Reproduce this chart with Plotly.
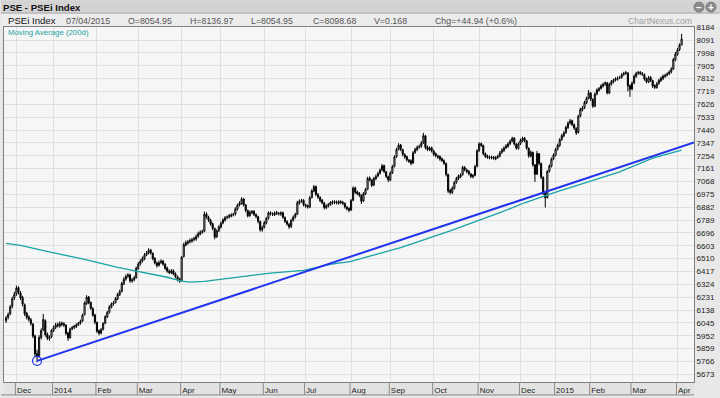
import pandas as pd
import plotly.graph_objects as go

# ---------------- data ----------------
start_date = "2013-11-25"
end_date = "2015-04-07"
holidays = ["2013-12-24", "2013-12-25", "2013-12-30", "2013-12-31", "2014-01-01", "2014-01-31",
            "2014-04-09", "2014-04-17", "2014-04-18", "2014-05-01", "2014-06-12", "2014-07-29",
            "2014-08-21", "2014-08-25", "2014-09-19", "2014-10-06", "2014-12-24", "2014-12-25",
            "2014-12-26", "2014-12-29", "2014-12-30", "2014-12-31", "2015-01-01", "2015-01-02",
            "2015-01-15", "2015-01-16", "2015-01-19", "2015-04-02", "2015-04-03"]
month_labels = ["Dec", "2014", "Feb", "Mar", "Apr", "May", "Jun", "Jul", "Aug", "Sep", "Oct",
                "Nov", "Dec", "2015", "Feb", "Mar", "Apr"]
y_ticks = [5673, 5766, 5859, 5952, 6045, 6138, 6231, 6324, 6417, 6510, 6603, 6696, 6789, 6882,
           6975, 7068, 7161, 7254, 7347, 7440, 7533, 7626, 7719, 7812, 7905, 7998, 8091, 8184]

opens = [6060, 6085, 6110, 6165, 6225, 6255, 6300, 6262, 6228, 6175,
         6115, 6088, 6068, 6035, 5950, 5822, 5805, 5938, 5995, 6060,
         5962, 5930, 5945, 5988, 6012, 6032, 6022, 6042, 6038, 6028,
         5972, 5938, 6002, 6012, 6018, 6032, 6042, 6058, 6105, 6185,
         6232, 6192, 6148, 6102, 6048, 5988, 5972, 5998, 6042, 6088,
         6122, 6158, 6182, 6192, 6218, 6248, 6272, 6328, 6362, 6382,
         6392, 6348, 6358, 6372, 6438, 6472, 6492, 6508, 6538, 6552,
         6572, 6548, 6512, 6478, 6462, 6482, 6492, 6468, 6442, 6418,
         6408, 6422, 6402, 6378, 6362, 6352, 6525, 6608, 6622, 6632,
         6638, 6648, 6652, 6672, 6688, 6702, 6708, 6832, 6808, 6788,
         6762, 6728, 6668, 6712, 6738, 6768, 6788, 6808, 6812, 6818,
         6828, 6832, 6868, 6898, 6908, 6942, 6898, 6858, 6822, 6842,
         6852, 6828, 6812, 6778, 6718, 6738, 6768, 6802, 6842, 6832,
         6828, 6842, 6836, 6832, 6842, 6808, 6778, 6758, 6742, 6788,
         6812, 6832, 6912, 6928, 6932, 6898, 6892, 6882, 6952, 6998,
         7032, 6972, 6952, 6932, 6912, 6878, 6892, 6902, 6912, 6922,
         6920, 6912, 6922, 6916, 6908, 6882, 6872, 6862, 6932, 7022,
         6992, 6982, 6968, 6928, 6978, 7012, 7092, 7078, 7042, 7088,
         7108, 7128, 7152, 7182, 7138, 7102, 7078, 7132, 7178, 7248,
         7302, 7332, 7298, 7262, 7248, 7222, 7218, 7202, 7278, 7298,
         7318, 7322, 7348, 7398, 7318, 7298, 7312, 7288, 7268, 7252,
         7248, 7232, 7218, 7198, 7118, 7002, 6988, 7018, 7062, 7088,
         7102, 7118, 7168, 7152, 7142, 7122, 7102, 7112, 7178, 7292,
         7342, 7328, 7268, 7252, 7238, 7245, 7242, 7232, 7242, 7252,
         7278, 7292, 7312, 7322, 7342, 7362, 7382, 7338, 7308, 7342,
         7362, 7382, 7362, 7308, 7252, 7278, 7188, 7122, 7268, 7198,
         7098, 6988, 6952, 7142, 7178, 7232, 7258, 7302, 7328, 7372,
         7398, 7422, 7458, 7492, 7508, 7478, 7452, 7422, 7542, 7588,
         7602, 7638, 7672, 7708, 7662, 7612, 7702, 7728, 7742, 7758,
         7772, 7782, 7708, 7772, 7788, 7802, 7808, 7818, 7822, 7842,
         7852, 7852, 7762, 7738, 7782, 7828, 7852, 7858, 7848, 7842,
         7812, 7788, 7822, 7798, 7762, 7748, 7778, 7798, 7812, 7828,
         7838, 7848, 7862, 7882, 7948, 7988, 8022, 8054.95]
highs = [6095, 6120, 6175, 6235, 6270, 6315, 6310, 6275, 6240, 6185,
         6125, 6100, 6080, 6045, 5960, 5850, 5955, 6005, 6110, 6070,
         5975, 5955, 6000, 6025, 6045, 6048, 6055, 6055, 6050, 6035,
         5980, 6010, 6022, 6030, 6042, 6052, 6068, 6112, 6200, 6245,
         6240, 6200, 6158, 6110, 6055, 5998, 6008, 6050, 6100, 6132,
         6172, 6192, 6202, 6232, 6262, 6285, 6342, 6375, 6395, 6405,
         6400, 6370, 6385, 6452, 6485, 6505, 6525, 6550, 6565, 6585,
         6580, 6555, 6520, 6488, 6495, 6505, 6500, 6478, 6452, 6430,
         6435, 6432, 6410, 6388, 6372, 6530, 6625, 6640, 6645, 6655,
         6660, 6668, 6685, 6705, 6715, 6720, 6850, 6845, 6820, 6798,
         6770, 6735, 6722, 6752, 6778, 6802, 6818, 6822, 6832, 6838,
         6842, 6882, 6908, 6925, 6955, 6948, 6905, 6865, 6858, 6862,
         6860, 6838, 6820, 6785, 6748, 6782, 6812, 6852, 6852, 6845,
         6852, 6855, 6848, 6852, 6850, 6815, 6788, 6768, 6798, 6822,
         6842, 6928, 6938, 6942, 6940, 6908, 6902, 6962, 7012, 7043,
         7038, 6985, 6962, 6942, 6920, 6902, 6912, 6925, 6932, 6932,
         6930, 6932, 6932, 6928, 6918, 6892, 6882, 6942, 7032, 7030,
         7002, 6992, 6975, 6992, 7022, 7102, 7105, 7085, 7100, 7118,
         7138, 7162, 7195, 7190, 7145, 7110, 7142, 7188, 7258, 7312,
         7345, 7340, 7305, 7272, 7255, 7232, 7228, 7288, 7312, 7328,
         7335, 7360, 7420, 7405, 7328, 7322, 7320, 7298, 7278, 7262,
         7258, 7242, 7228, 7205, 7125, 7015, 7032, 7072, 7102, 7118,
         7128, 7182, 7180, 7162, 7150, 7130, 7122, 7188, 7302, 7352,
         7350, 7335, 7278, 7262, 7255, 7255, 7252, 7252, 7262, 7288,
         7308, 7322, 7338, 7352, 7372, 7392, 7388, 7345, 7352, 7378,
         7392, 7390, 7368, 7315, 7292, 7285, 7195, 7290, 7275, 7205,
         7105, 7000, 7150, 7192, 7242, 7272, 7312, 7342, 7382, 7412,
         7432, 7472, 7502, 7520, 7515, 7488, 7460, 7552, 7602, 7615,
         7652, 7682, 7730, 7715, 7670, 7712, 7742, 7752, 7772, 7785,
         7792, 7788, 7782, 7802, 7812, 7822, 7828, 7832, 7852, 7862,
         7868, 7860, 7770, 7792, 7842, 7862, 7868, 7868, 7860, 7850,
         7820, 7832, 7830, 7805, 7770, 7788, 7812, 7828, 7842, 7848,
         7858, 7872, 7895, 7962, 8005, 8035, 8068, 8136.97]
lows = [6045, 6070, 6100, 6150, 6210, 6240, 6250, 6210, 6165, 6095,
        6070, 6055, 6025, 5935, 5800, 5760, 5795, 5925, 5985, 5945,
        5920, 5915, 5935, 5978, 6000, 6012, 6010, 6020, 6015, 5955,
        5915, 5930, 5992, 6000, 6008, 6022, 6032, 6050, 6098, 6175,
        6180, 6140, 6090, 6035, 5972, 5955, 5962, 5990, 6035, 6080,
        6112, 6150, 6170, 6185, 6210, 6240, 6265, 6318, 6350, 6370,
        6335, 6335, 6345, 6365, 6430, 6460, 6482, 6498, 6528, 6540,
        6540, 6498, 6468, 6445, 6452, 6470, 6458, 6428, 6408, 6398,
        6398, 6390, 6368, 6345, 6335, 6345, 6518, 6598, 6610, 6620,
        6625, 6635, 6640, 6660, 6678, 6690, 6700, 6798, 6775, 6748,
        6715, 6650, 6660, 6702, 6728, 6758, 6778, 6795, 6800, 6808,
        6815, 6822, 6858, 6888, 6900, 6888, 6845, 6808, 6812, 6832,
        6818, 6802, 6765, 6705, 6705, 6728, 6758, 6792, 6822, 6818,
        6818, 6826, 6822, 6820, 6798, 6768, 6748, 6725, 6732, 6778,
        6800, 6825, 6900, 6915, 6888, 6878, 6872, 6875, 6945, 6990,
        6962, 6942, 6918, 6902, 6865, 6868, 6880, 6892, 6900, 6905,
        6902, 6900, 6905, 6898, 6872, 6858, 6845, 6855, 6925, 6978,
        6968, 6955, 6905, 6920, 6970, 7005, 7068, 7028, 7035, 7078,
        7098, 7118, 7142, 7128, 7092, 7065, 7070, 7122, 7170, 7240,
        7292, 7288, 7252, 7232, 7212, 7202, 7185, 7195, 7268, 7288,
        7305, 7312, 7340, 7300, 7288, 7288, 7278, 7252, 7242, 7232,
        7218, 7208, 7188, 7105, 6985, 6975, 6978, 7010, 7052, 7078,
        7092, 7110, 7142, 7128, 7112, 7092, 7090, 7105, 7170, 7282,
        7318, 7258, 7238, 7232, 7228, 7228, 7225, 7222, 7232, 7242,
        7268, 7282, 7302, 7312, 7332, 7352, 7328, 7298, 7298, 7332,
        7352, 7352, 7298, 7240, 7242, 7175, 7065, 7115, 7185, 7085,
        6970, 6880, 6945, 7132, 7170, 7222, 7250, 7292, 7318, 7362,
        7388, 7412, 7448, 7480, 7468, 7442, 7405, 7415, 7532, 7575,
        7592, 7628, 7662, 7650, 7600, 7605, 7692, 7718, 7732, 7748,
        7760, 7698, 7700, 7762, 7778, 7792, 7798, 7808, 7812, 7832,
        7840, 7720, 7680, 7728, 7772, 7818, 7840, 7838, 7832, 7798,
        7778, 7780, 7788, 7745, 7738, 7740, 7768, 7788, 7802, 7818,
        7828, 7838, 7850, 7875, 7938, 7978, 8012, 8054.95]
closes = [6080, 6105, 6160, 6220, 6250, 6295, 6265, 6225, 6180, 6110,
          6085, 6070, 6040, 5950, 5820, 5800, 5940, 5990, 6070, 5960,
          5935, 5940, 5990, 6010, 6030, 6025, 6040, 6035, 6030, 5970,
          5935, 6000, 6010, 6020, 6030, 6040, 6055, 6100, 6190, 6230,
          6190, 6150, 6100, 6050, 5985, 5970, 5995, 6040, 6090, 6120,
          6160, 6180, 6190, 6220, 6250, 6270, 6330, 6360, 6380, 6390,
          6350, 6355, 6370, 6440, 6470, 6490, 6510, 6535, 6550, 6570,
          6550, 6510, 6480, 6460, 6480, 6490, 6470, 6440, 6420, 6410,
          6420, 6400, 6380, 6360, 6350, 6520, 6610, 6625, 6630, 6640,
          6645, 6655, 6670, 6690, 6700, 6705, 6830, 6810, 6790, 6760,
          6730, 6665, 6710, 6740, 6765, 6790, 6805, 6810, 6820, 6825,
          6830, 6870, 6895, 6910, 6940, 6900, 6860, 6820, 6845, 6850,
          6830, 6815, 6780, 6720, 6735, 6770, 6800, 6840, 6835, 6830,
          6840, 6838, 6835, 6840, 6810, 6780, 6760, 6740, 6785, 6810,
          6830, 6915, 6925, 6930, 6900, 6890, 6885, 6950, 7000, 7030,
          6975, 6955, 6930, 6915, 6880, 6890, 6900, 6915, 6920, 6918,
          6915, 6920, 6918, 6910, 6885, 6870, 6860, 6930, 7020, 6990,
          6980, 6970, 6925, 6980, 7010, 7090, 7080, 7040, 7090, 7105,
          7125, 7150, 7180, 7140, 7105, 7080, 7130, 7175, 7245, 7300,
          7330, 7300, 7265, 7245, 7225, 7215, 7200, 7275, 7300, 7315,
          7320, 7345, 7400, 7315, 7300, 7310, 7290, 7265, 7255, 7245,
          7230, 7220, 7200, 7120, 7000, 6990, 7020, 7060, 7090, 7105,
          7115, 7170, 7155, 7140, 7125, 7105, 7110, 7175, 7290, 7340,
          7330, 7270, 7250, 7245, 7242, 7240, 7236, 7240, 7250, 7275,
          7295, 7310, 7325, 7340, 7360, 7380, 7340, 7310, 7340, 7365,
          7380, 7365, 7310, 7255, 7280, 7190, 7120, 7270, 7200, 7100,
          6985, 6950, 7140, 7180, 7230, 7260, 7300, 7330, 7370, 7400,
          7420, 7460, 7490, 7505, 7480, 7455, 7420, 7540, 7590, 7600,
          7640, 7670, 7710, 7665, 7615, 7700, 7730, 7740, 7760, 7770,
          7780, 7710, 7770, 7790, 7800, 7810, 7815, 7820, 7840, 7850,
          7855, 7760, 7735, 7780, 7830, 7850, 7855, 7850, 7845, 7810,
          7790, 7820, 7800, 7760, 7750, 7775, 7800, 7815, 7830, 7835,
          7845, 7860, 7880, 7950, 7990, 8020, 8055, 8098.68]

# 200-day moving average, read at points along the curve (trading-day index, value)
ma_index = [0, 7, 22, 38, 54, 65, 78, 85, 89, 96, 112, 128, 144, 157, 167, 191, 215, 239,
            251, 265, 278, 287, 297, 313, 327]
ma_values = [6620, 6605, 6555, 6505, 6447, 6412, 6375, 6347, 6340, 6345, 6375, 6405, 6425,
             6469, 6490, 6590, 6710, 6842, 6914, 6986, 7047, 7092, 7138, 7237, 7295]

# trend line drawn from the Dec-2013 low out to the right edge
trend_index = [15, 333]
trend_values = [5770, 7350]

title_text = "PSE - PSEi Index"
header_fields = ["PSEi Index", "07/04/2015", "O=8054.95", "H=8136.97", "L=8054.95",
                 "C=8098.68", "V=0.168", "Chg=+44.94 (+0.6%)"]
site_text = "ChartNexus.com"
indicator_text = "Moving Average (200d)"

# ---------------- derived positions ----------------
dates = [d for d in pd.bdate_range(start_date, end_date) if d.strftime("%Y-%m-%d") not in holidays]
N = len(dates)
idx = list(range(N))
tickvals = [i for i in range(N) if i > 0 and dates[i].month != dates[i - 1].month]
assert len(tickvals) == len(month_labels), (len(tickvals), len(month_labels))
assert len(opens) == len(highs) == len(lows) == len(closes) == N

W, H = 720, 398
L_M, R_M, T_M, B_M = 3, 26, 27, 14
PW = W - L_M - R_M
PH = H - T_M - B_M


def px(x):
    return (x - L_M) / PW


def py(y):
    return 1 - (y - T_M) / PH


FONT = "Liberation Sans"
TEAL = "#1aa3a3"
BLUE = "#2233ee"

fig = go.Figure()
fig.add_trace(go.Candlestick(
    x=idx, open=opens, high=highs, low=lows, close=closes,
    increasing=dict(line=dict(color="#000000", width=1), fillcolor="#ffffff"),
    decreasing=dict(line=dict(color="#000000", width=1), fillcolor="#000000"),
    whiskerwidth=0, hoverinfo="skip", showlegend=False,
))
fig.add_trace(go.Scatter(x=ma_index, y=ma_values, mode="lines", line=dict(color=TEAL, width=1.3),
                         hoverinfo="skip", showlegend=False))
fig.add_trace(go.Scatter(x=trend_index, y=trend_values, mode="lines", line=dict(color=BLUE, width=2),
                         hoverinfo="skip", showlegend=False))
fig.add_trace(go.Scatter(x=trend_index[:1], y=trend_values[:1], mode="markers",
                         marker=dict(symbol="circle-open", size=9, color=BLUE, line=dict(width=1.2)),
                         hoverinfo="skip", showlegend=False))

shapes = []
# header bars
shapes.append(dict(type="rect", xref="paper", yref="paper", x0=px(0), x1=px(W), y0=py(13), y1=py(0),
                   fillcolor="#d3d3d3", line=dict(width=0), layer="below"))
shapes.append(dict(type="rect", xref="paper", yref="paper", x0=px(0), x1=px(W), y0=py(27), y1=py(13),
                   fillcolor="#ececec", line=dict(width=0), layer="below"))
shapes.append(dict(type="line", xref="paper", yref="paper", x0=px(0), x1=px(W), y0=py(13), y1=py(13),
                   line=dict(color="#a8a8a8", width=1)))
# zoom icons in the title bar
for cx in [699, 711]:
    shapes.append(dict(type="circle", xref="paper", yref="paper", x0=px(cx - 5), x1=px(cx + 5),
                       y0=py(12), y1=py(2), fillcolor="#8c8c8c", line=dict(color="#7a7a7a", width=1)))
# bottom date band
shapes.append(dict(type="rect", xref="paper", yref="paper", x0=0, x1=1, y0=py(H), y1=0,
                   fillcolor="#e2e2e2", line=dict(width=0), layer="below"))
for tv in tickvals:
    shapes.append(dict(type="line", xref="x", yref="paper", x0=tv - 0.5, x1=tv - 0.5, y0=py(H - 1), y1=0,
                       line=dict(color="#8a8a8a", width=1)))
shapes.append(dict(type="line", xref="paper", yref="paper", x0=px(0), x1=1, y0=py(H - 1), y1=py(H - 1),
                   line=dict(color="#8a8a8a", width=1)))

annotations = []
annotations.append(dict(text="<b>" + title_text + "</b>", xref="paper", yref="paper", x=px(0), y=py(7),
                        xanchor="left", yanchor="middle", showarrow=False,
                        font=dict(family=FONT, size=9.6, color="#111111")))
for cx, sym in [(699, "−"), (711, "+")]:
    annotations.append(dict(text="<b>" + sym + "</b>", xref="paper", yref="paper", x=px(cx), y=py(7),
                            xanchor="center", yanchor="middle", showarrow=False,
                            font=dict(family=FONT, size=10, color="#ffffff")))
hx = [5, 63, 125, 187, 248, 310, 372, 433]
for i, t in enumerate(header_fields):
    annotations.append(dict(text=t, xref="paper", yref="paper", x=px(hx[i]), y=py(20.5),
                            xanchor="left", yanchor="middle", showarrow=False,
                            font=dict(family=FONT, size=9.6 if i == 0 else 8.8,
                                      color="#111111" if i == 0 else "#555555")))
annotations.append(dict(text=site_text, xref="paper", yref="paper", x=px(694), y=py(20.5),
                        xanchor="right", yanchor="middle", showarrow=False,
                        font=dict(family=FONT, size=8.6, color="#a0a0a0")))
annotations.append(dict(text=indicator_text, xref="paper", yref="paper", x=px(5), y=py(32.5),
                        xanchor="left", yanchor="middle", showarrow=False,
                        font=dict(family=FONT, size=7.8, color=TEAL)))

fig.update_layout(
    width=W, height=H,
    margin=dict(l=L_M, r=R_M, t=T_M, b=B_M, pad=0),
    paper_bgcolor="#e8e8e8", plot_bgcolor="#f6f6f6",
    shapes=shapes, annotations=annotations, boxgap=0.25,
    xaxis=dict(range=[-1, N + 5], tickmode="array", tickvals=tickvals, ticktext=month_labels,
               showgrid=True, gridcolor="#e0e0e0", gridwidth=1, zeroline=False,
               rangeslider=dict(visible=False), ticks="", ticklabelposition="outside right",
               tickfont=dict(family=FONT, size=8, color="#222222"),
               showline=True, linecolor="#808080", linewidth=1, mirror=True),
    yaxis=dict(range=[5617, 8186], side="right", tickmode="array", tickvals=y_ticks,
               ticktext=[str(v) for v in y_ticks], showgrid=True, gridcolor="#e0e0e0",
               zeroline=False, ticks="", tickfont=dict(family=FONT, size=8, color="#222222"),
               showline=True, linecolor="#808080", linewidth=1, mirror=True),
)

fig.write_html("out.html", config={"displayModeBar": False, "staticPlot": True},
               post_script="document.body.style.margin='0px';")
